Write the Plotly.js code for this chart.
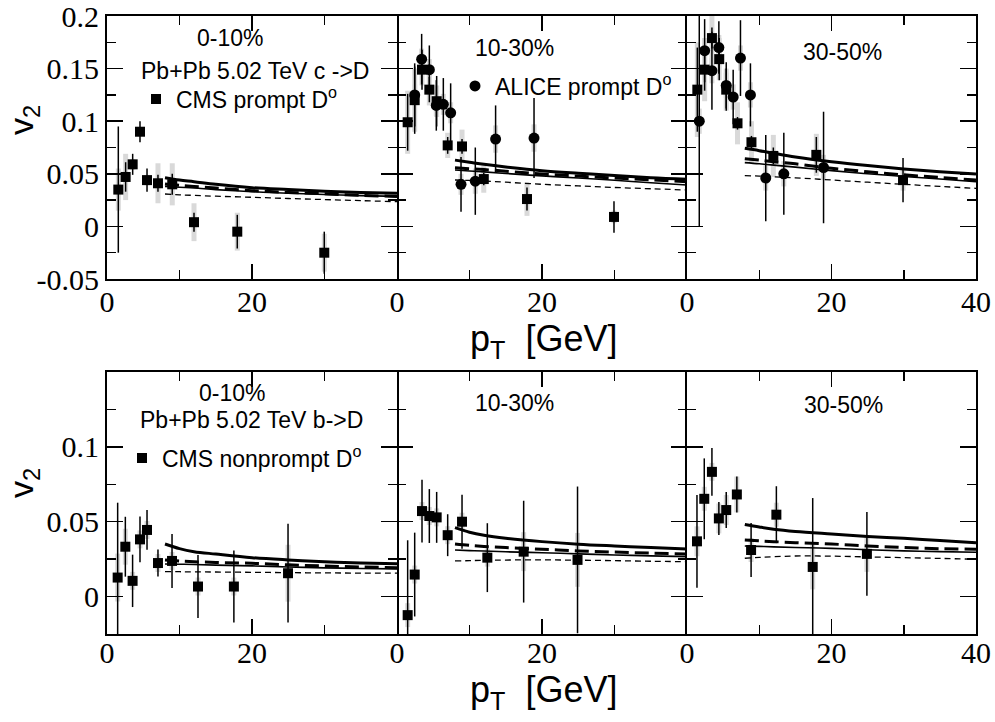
<!DOCTYPE html>
<html>
<head>
<meta charset="utf-8">
<script src="https://cdn.plot.ly/plotly-3.0.1.min.js"></script>
<style>html,body{margin:0;padding:0;background:#fff;}#chart{width:995px;height:722px;}</style>
</head>
<body>
<div id="chart"></div>
<script>
// ---------------- data ----------------
// theory curves: common pT grid
const theoryPt = [8, 10, 12, 15, 20, 25, 30, 35, 40];

// ---- c -> D (top row) ----
// 0-10%
const cmsPrompt010_pt   = [1.56, 2.57, 3.54, 4.55, 5.52, 7.03, 9.0, 12.0, 17.97, 29.97];
const cmsPrompt010_v2   = [0.035, 0.047, 0.059, 0.090, 0.044, 0.041, 0.040, 0.004, -0.005, -0.025];
const cmsPrompt010_stat = [0.060, 0.014, 0.010, 0.010, 0.011, 0.008, 0.010, 0.009, 0.016, 0.020];
const cmsPrompt010_syst = [0.020, 0.022, 0.005, 0.004, 0.005, 0.019, 0.020, 0.018, 0.018, 0.018];
const thC010_thickSolid = [0.0463, 0.0440, 0.0425, 0.0400, 0.0368, 0.0350, 0.0334, 0.0323, 0.0315];
const thC010_thickDash  = [0.0403, 0.0390, 0.0380, 0.0365, 0.0340, 0.0323, 0.0310, 0.0295, 0.0285];
const thC010_thinSolid  = [0.0380, 0.0372, 0.0365, 0.0350, 0.0330, 0.0315, 0.0303, 0.0293, 0.0285];
const thC010_thinDash   = [0.0308, 0.0300, 0.0295, 0.0287, 0.0277, 0.0265, 0.0255, 0.0245, 0.0235];

// 10-30%
const cmsPrompt1030_pt   = [1.47, 2.44, 3.45, 4.46, 5.47, 6.99, 8.97, 11.97, 17.93, 29.93];
const cmsPrompt1030_v2   = [0.099, 0.120, 0.149, 0.130, 0.119, 0.077, 0.076, 0.045, 0.026, 0.009];
const cmsPrompt1030_stat = [0.027, 0.032, 0.019, 0.012, 0.024, 0.008, 0.007, 0.006, 0.011, 0.015];
const cmsPrompt1030_syst = [0.030, 0.030, 0.015, 0.015, 0.015, 0.012, 0.016, 0.013, 0.016, 0.006];
const alice1030_pt   = [2.44, 3.40, 4.46, 5.42, 6.39, 7.40, 8.83, 10.8, 13.6, 18.9];
const alice1030_v2   = [0.125, 0.159, 0.149, 0.115, 0.116, 0.108, 0.040, 0.043, 0.083, 0.084];
const alice1030_stat = [0.030, 0.024, 0.023, 0.024, 0.025, 0.028, 0.026, 0.032, 0.032, 0.038];
const alice1030_syst = [0.010, 0.010, 0.010, 0.010, 0.010, 0.010, 0.010, 0.012, 0.013, 0.013];
const thC1030_thickSolid = [0.0630, 0.0610, 0.0590, 0.0565, 0.0530, 0.0505, 0.0483, 0.0463, 0.0448];
const thC1030_thickDash  = [0.0558, 0.0548, 0.0540, 0.0525, 0.0498, 0.0478, 0.0460, 0.0442, 0.0425];
const thC1030_thinSolid  = [0.0536, 0.0527, 0.0518, 0.0503, 0.0480, 0.0460, 0.0438, 0.0415, 0.0394];
const thC1030_thinDash   = [0.0441, 0.0437, 0.0432, 0.0420, 0.0400, 0.0385, 0.0370, 0.0358, 0.0346];

// 30-50%
const cmsPrompt3050_pt   = [1.43, 2.44, 3.45, 4.46, 5.43, 6.99, 8.92, 11.95, 17.9, 29.9];
const cmsPrompt3050_v2   = [0.130, 0.149, 0.179, 0.159, 0.130, 0.098, 0.080, 0.067, 0.068, 0.044];
const cmsPrompt3050_stat = [0.040, 0.020, 0.010, 0.020, 0.020, 0.006, 0.006, 0.008, 0.017, 0.021];
const cmsPrompt3050_syst = [0.045, 0.030, 0.030, 0.020, 0.020, 0.020, 0.020, 0.020, 0.020, 0.010];
const alice3050_pt   = [1.70, 2.44, 3.45, 4.41, 5.43, 6.39, 7.40, 8.78, 10.9, 13.4, 18.9];
const alice3050_v2   = [0.100, 0.167, 0.148, 0.170, 0.134, 0.123, 0.160, 0.125, 0.046, 0.050, 0.056];
const alice3050_stat = [0.100, 0.030, 0.037, 0.025, 0.022, 0.026, 0.036, 0.030, 0.041, 0.039, 0.053];
const alice3050_syst = [0.012, 0.012, 0.012, 0.012, 0.012, 0.012, 0.012, 0.012, 0.012, 0.012, 0.012];
const thC3050_thickSolid = [0.0742, 0.0720, 0.0695, 0.0660, 0.0615, 0.0578, 0.0546, 0.0520, 0.0498];
const thC3050_thickDash  = [0.0644, 0.0630, 0.0615, 0.0595, 0.0552, 0.0520, 0.0490, 0.0465, 0.0441];
const thC3050_thinSolid  = [0.0606, 0.0595, 0.0582, 0.0563, 0.0530, 0.0500, 0.0475, 0.0450, 0.0425];
const thC3050_thinDash   = [0.0482, 0.0478, 0.0472, 0.0462, 0.0441, 0.0420, 0.0400, 0.0380, 0.0362];

// ---- b -> D (bottom row) ----
// 0-10%
const cmsNP010_pt   = [1.47, 2.53, 3.53, 4.55, 5.52, 7.03, 8.97, 12.55, 17.5, 24.97];
const cmsNP010_v2   = [0.0127, 0.0333, 0.0105, 0.0382, 0.0445, 0.0224, 0.0238, 0.0067, 0.0067, 0.0156];
const cmsNP010_stat = [0.050, 0.020, 0.0175, 0.0153, 0.0133, 0.009, 0.018, 0.021, 0.024, 0.033];
const cmsNP010_syst = [0.016, 0.012, 0.006, 0.006, 0.006, 0.006, 0.006, 0.006, 0.006, 0.019];
const thB010_thickSolid = [0.0351, 0.0320, 0.0300, 0.0284, 0.0260, 0.0245, 0.0233, 0.0225, 0.0220];
const thB010_thickDash  = [0.0245, 0.0238, 0.0233, 0.0228, 0.0222, 0.0212, 0.0204, 0.0198, 0.0193];
const thB010_thinSolid  = [0.0218, 0.0216, 0.0214, 0.0210, 0.0205, 0.0198, 0.0192, 0.0188, 0.0185];
const thB010_thinDash   = [0.0167, 0.0166, 0.0165, 0.0164, 0.0162, 0.0160, 0.0158, 0.0157, 0.0156];

// 10-30%
const cmsNP1030_pt   = [1.47, 2.44, 3.45, 4.46, 5.47, 6.99, 8.97, 12.46, 17.47, 24.9];
const cmsNP1030_v2   = [-0.0124, 0.0147, 0.0571, 0.0538, 0.0529, 0.0410, 0.0500, 0.0260, 0.0300, 0.0245];
const cmsNP1030_stat = [0.050, 0.028, 0.021, 0.018, 0.017, 0.014, 0.018, 0.023, 0.034, 0.049];
const cmsNP1030_syst = [0.008, 0.006, 0.006, 0.006, 0.006, 0.006, 0.006, 0.006, 0.013, 0.018];
const thB1030_thickSolid = [0.0460, 0.0430, 0.0410, 0.0390, 0.0367, 0.0350, 0.0338, 0.0327, 0.0318];
const thB1030_thickDash  = [0.0351, 0.0342, 0.0335, 0.0327, 0.0316, 0.0305, 0.0297, 0.0290, 0.0285];
const thB1030_thinSolid  = [0.0311, 0.0307, 0.0304, 0.0299, 0.0293, 0.0285, 0.0278, 0.0272, 0.0267];
const thB1030_thinDash   = [0.0238, 0.0240, 0.0242, 0.0244, 0.0245, 0.0243, 0.0240, 0.0236, 0.0233];

// 30-50%
const cmsNP3050_pt   = [1.38, 2.39, 3.45, 4.41, 5.43, 6.90, 8.87, 12.37, 17.4, 24.9];
const cmsNP3050_v2   = [0.0369, 0.0653, 0.0833, 0.0522, 0.0578, 0.0682, 0.0311, 0.0547, 0.0198, 0.0285];
const cmsNP3050_stat = [0.031, 0.027, 0.016, 0.011, 0.012, 0.012, 0.018, 0.019, 0.046, 0.028];
const cmsNP3050_syst = [0.010, 0.008, 0.006, 0.010, 0.010, 0.012, 0.008, 0.008, 0.015, 0.012];
const thB3050_thickSolid = [0.0482, 0.0465, 0.0450, 0.0435, 0.0418, 0.0402, 0.0389, 0.0374, 0.0360];
const thB3050_thickDash  = [0.0378, 0.0372, 0.0367, 0.0360, 0.0351, 0.0338, 0.0328, 0.0320, 0.0316];
const thB3050_thinSolid  = [0.0338, 0.0335, 0.0332, 0.0328, 0.0322, 0.0313, 0.0305, 0.0300, 0.0296];
const thB3050_thinDash   = [0.0256, 0.0262, 0.0266, 0.0271, 0.0270, 0.0265, 0.0260, 0.0255, 0.0249];

// tick labels
const xTickValsInner = [0, 20];
const xTickTextInner = ['0', '20'];
const xTickValsLast = [0, 20, 40];
const xTickTextLast = ['0', '20', '40'];
const yTopTickVals = [-0.05, 0, 0.05, 0.1, 0.15, 0.2];
const yTopTickText = ['-0.05', '0', '0.05', '0.1', '0.15', '0.2'];
const yBotTickVals = [0, 0.05, 0.1];
const yBotTickText = ['0', '0.05', '0.1'];

// ---------------- traces ----------------
const traces = [];
function syst(xs, ys, err, ax) {
  traces.push({x: xs, y: ys, xaxis: ax[0], yaxis: ax[1], type: 'scatter', mode: 'markers',
    marker: {size: 1, color: 'rgba(0,0,0,0)'}, showlegend: false, hoverinfo: 'skip',
    error_y: {type: 'data', array: err, visible: true, color: '#d9d9d9', thickness: 5, width: 0}});
}
function theory(ts, td, ns, nd, ax) {
  const base = {x: theoryPt, xaxis: ax[0], yaxis: ax[1], type: 'scatter', mode: 'lines', showlegend: false, hoverinfo: 'skip'};
  traces.push(Object.assign({}, base, {y: nd, line: {color: '#000', width: 1.3, dash: '6px,4px', shape: 'spline'}}));
  traces.push(Object.assign({}, base, {y: ns, line: {color: '#000', width: 1.6, shape: 'spline'}}));
  traces.push(Object.assign({}, base, {y: td, line: {color: '#000', width: 3, dash: '14px,6px', shape: 'spline'}}));
  traces.push(Object.assign({}, base, {y: ts, line: {color: '#000', width: 3, shape: 'spline'}}));
}
function points(xs, ys, err, ax, symbol, name, legend) {
  const t = {x: xs, y: ys, xaxis: ax[0], yaxis: ax[1], type: 'scatter', mode: 'markers', name: name,
    marker: {symbol: symbol, size: symbol === 'square' ? 10 : 11, color: '#000'},
    error_y: {type: 'data', array: err, visible: true, color: '#000', thickness: 1.5, width: 0},
    showlegend: !!legend};
  if (legend) t.legend = legend;
  traces.push(t);
}

// top row
syst(cmsPrompt010_pt, cmsPrompt010_v2, cmsPrompt010_syst, ['x', 'y']);
theory(thC010_thickSolid, thC010_thickDash, thC010_thinSolid, thC010_thinDash, ['x', 'y']);
points(cmsPrompt010_pt, cmsPrompt010_v2, cmsPrompt010_stat, ['x', 'y'], 'square', 'CMS prompt D<sup>o</sup>', 'legend');

syst(cmsPrompt1030_pt, cmsPrompt1030_v2, cmsPrompt1030_syst, ['x2', 'y2']);
syst(alice1030_pt, alice1030_v2, alice1030_syst, ['x2', 'y2']);
theory(thC1030_thickSolid, thC1030_thickDash, thC1030_thinSolid, thC1030_thinDash, ['x2', 'y2']);
points(cmsPrompt1030_pt, cmsPrompt1030_v2, cmsPrompt1030_stat, ['x2', 'y2'], 'square', 'CMS prompt', null);
points(alice1030_pt, alice1030_v2, alice1030_stat, ['x2', 'y2'], 'circle', 'ALICE prompt D<sup>o</sup>', 'legend2');

syst(cmsPrompt3050_pt, cmsPrompt3050_v2, cmsPrompt3050_syst, ['x3', 'y3']);
syst(alice3050_pt, alice3050_v2, alice3050_syst, ['x3', 'y3']);
theory(thC3050_thickSolid, thC3050_thickDash, thC3050_thinSolid, thC3050_thinDash, ['x3', 'y3']);
points(cmsPrompt3050_pt, cmsPrompt3050_v2, cmsPrompt3050_stat, ['x3', 'y3'], 'square', 'CMS prompt', null);
points(alice3050_pt, alice3050_v2, alice3050_stat, ['x3', 'y3'], 'circle', 'ALICE prompt', null);

// bottom row
syst(cmsNP010_pt, cmsNP010_v2, cmsNP010_syst, ['x4', 'y4']);
theory(thB010_thickSolid, thB010_thickDash, thB010_thinSolid, thB010_thinDash, ['x4', 'y4']);
points(cmsNP010_pt, cmsNP010_v2, cmsNP010_stat, ['x4', 'y4'], 'square', 'CMS nonprompt D<sup>o</sup>', 'legend3');

syst(cmsNP1030_pt, cmsNP1030_v2, cmsNP1030_syst, ['x5', 'y5']);
theory(thB1030_thickSolid, thB1030_thickDash, thB1030_thinSolid, thB1030_thinDash, ['x5', 'y5']);
points(cmsNP1030_pt, cmsNP1030_v2, cmsNP1030_stat, ['x5', 'y5'], 'square', 'CMS nonprompt', null);

syst(cmsNP3050_pt, cmsNP3050_v2, cmsNP3050_syst, ['x6', 'y6']);
theory(thB3050_thickSolid, thB3050_thickDash, thB3050_thinSolid, thB3050_thinDash, ['x6', 'y6']);
points(cmsNP3050_pt, cmsNP3050_v2, cmsNP3050_stat, ['x6', 'y6'], 'square', 'CMS nonprompt', null);

// ---------------- layout ----------------
const W = 995, H = 722;
const px = v => v / W;
const py = v => 1 - v / H;
const colDom = [[px(107), px(397)], [px(397), px(687)], [px(687), px(976)]];
const topDom = [py(279), py(16)];
const botDom = [py(634), py(372)];
const serif = '"Liberation Serif", "Times New Roman", serif';
const sans = '"Liberation Sans", Arial, Helvetica, sans-serif';

function xAxis(dom, anchor, vals, ticktext, fs, standoff) {
  return {domain: dom, anchor: anchor, range: [0, 40], tickmode: 'array', tickvals: vals, ticktext: ticktext,
    ticks: 'inside', ticklen: 15, tickwidth: 1.5, tickcolor: '#000', showline: true, linewidth: 2, linecolor: '#000',
    mirror: 'ticks', showgrid: false, zeroline: false, fixedrange: true, ticklabelstandoff: standoff,
    ticklabeloverflow: 'allow',
    minor: {dtick: 10, tick0: 0, ticks: 'inside', ticklen: 9, tickwidth: 1.5, tickcolor: '#000', showgrid: false},
    tickfont: {family: serif, size: fs, color: '#000'}};
}
function yAxis(dom, anchor, range, vals, text, showLabels, showLine, fs) {
  return {domain: dom, anchor: anchor, range: range, tickmode: 'array', tickvals: vals, ticktext: text,
    showticklabels: showLabels, ticks: 'inside', ticklen: 16, tickwidth: 1.5, tickcolor: '#000', showline: showLine,
    linewidth: 2, linecolor: '#000', mirror: 'ticks', showgrid: false, zeroline: false, fixedrange: true,
    ticklabeloverflow: 'allow',
    minor: {dtick: 0.025, tick0: 0, ticks: 'inside', ticklen: 9, tickwidth: 1.5, tickcolor: '#000', showgrid: false},
    tickfont: {family: serif, size: fs, color: '#000'}};
}
const topRange = [-0.05, 0.2];
const botRange = [-0.025, 0.15];

function ann(text, x, y, size, extra) {
  return Object.assign({text: text, xref: 'paper', yref: 'paper', x: px(x), y: py(y), xanchor: 'center', yanchor: 'middle',
    showarrow: false, font: {family: sans, size: size, color: '#000'}}, extra || {});
}
function legendBox(x, y) {
  return {x: px(x), y: py(y), xanchor: 'left', yanchor: 'middle', bgcolor: 'rgba(0,0,0,0)', borderwidth: 0,
    font: {family: sans, size: 23, color: '#000'}, itemclick: false, itemdoubleclick: false};
}

const layout = {
  width: W, height: H, margin: {l: 0, r: 0, t: 0, b: 0}, paper_bgcolor: '#fff', plot_bgcolor: '#fff',
  font: {family: serif, size: 28, color: '#000'}, showlegend: true,
  xaxis: xAxis(colDom[0], 'y', xTickValsInner, xTickTextInner, 30, -5),
  xaxis2: xAxis(colDom[1], 'y2', xTickValsInner, xTickTextInner, 30, -5),
  xaxis3: xAxis(colDom[2], 'y3', xTickValsLast, xTickTextLast, 30, -5),
  xaxis4: xAxis(colDom[0], 'y4', xTickValsInner, xTickTextInner, 30, -9),
  xaxis5: xAxis(colDom[1], 'y5', xTickValsInner, xTickTextInner, 30, -9),
  xaxis6: xAxis(colDom[2], 'y6', xTickValsLast, xTickTextLast, 30, -9),
  yaxis: yAxis(topDom, 'x', topRange, yTopTickVals, yTopTickText, true, true, 30),
  yaxis2: yAxis(topDom, 'x2', topRange, yTopTickVals, yTopTickText, false, false, 30),
  yaxis3: yAxis(topDom, 'x3', topRange, yTopTickVals, yTopTickText, false, true, 30),
  yaxis4: yAxis(botDom, 'x4', botRange, yBotTickVals, yBotTickText, true, true, 30),
  yaxis5: yAxis(botDom, 'x5', botRange, yBotTickVals, yBotTickText, false, false, 30),
  yaxis6: yAxis(botDom, 'x6', botRange, yBotTickVals, yBotTickText, false, true, 30),
  legend: legendBox(136, 99),
  legend2: legendBox(455, 86),
  legend3: legendBox(122, 458),
  annotations: [
    ann('0-10%', 230, 38, 23),
    ann('Pb+Pb 5.02 TeV c ->D', 255, 71, 23),
    ann('10-30%', 514, 48, 23),
    ann('30-50%', 842, 52, 23),
    ann('0-10%', 232, 393, 23),
    ann('Pb+Pb 5.02 TeV b->D', 251, 420, 23),
    ann('10-30%', 514, 403, 23),
    ann('30-50%', 843, 405, 23),
    ann('v<sub>2</sub>', 24, 120, 34, {textangle: -90}),
    ann('v<sub>2</sub>', 23, 483, 34, {textangle: -90}),
    ann('p<sub>T</sub>  [GeV]', 543, 341, 36),
    ann('p<sub>T</sub>  [GeV]', 543, 692, 36)
  ]
};

Plotly.newPlot('chart', traces, layout, {staticPlot: true, displayModeBar: false});
</script>
</body>
</html>
